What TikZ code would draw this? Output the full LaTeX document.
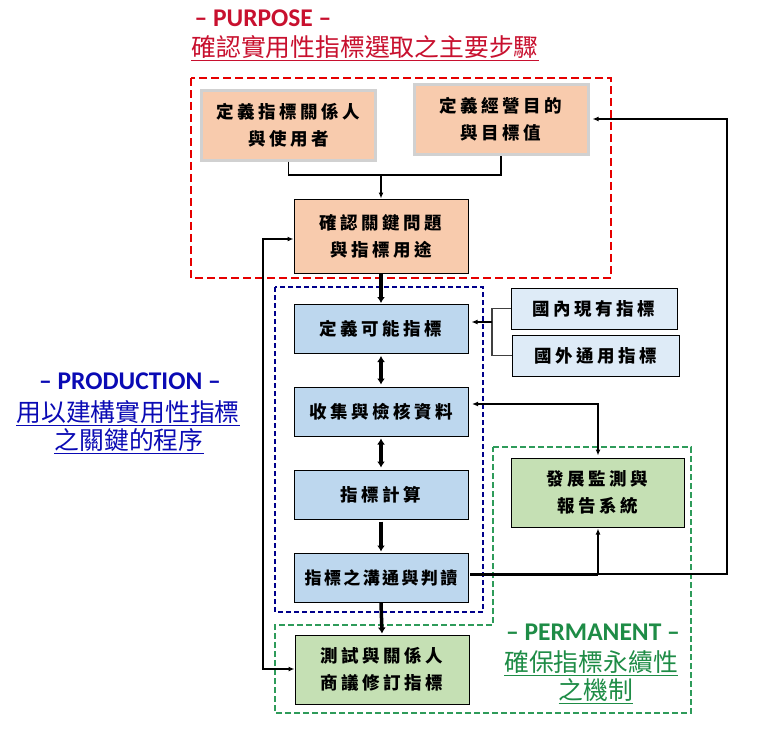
\documentclass[tikz,border=0pt]{standalone}
\usepackage{fontspec}
\setmainfont{Liberation Serif}
\newfontfamily\cjk{Noto Sans CJK TC}
\newfontfamily\cjkbox[LetterSpace=20]{Noto Sans CJK TC}
\newfontfamily\cjkboxn[LetterSpace=14]{Noto Sans CJK TC}
\newfontfamily\lat{Carlito}
\usetikzlibrary{arrows.meta,calc}
\definecolor{peach}{HTML}{F8CBAD}
\definecolor{lblue}{HTML}{BDD7EE}
\definecolor{llblue}{HTML}{DEEBF7}
\definecolor{lgreen}{HTML}{C5E0B4}
\definecolor{redline}{HTML}{E60000}
\definecolor{redtext}{HTML}{C8102E}
\definecolor{blueline}{HTML}{00008B}
\definecolor{bluetext}{HTML}{0A0AB4}
\definecolor{greenline}{HTML}{2E9B5A}
\definecolor{greentext}{HTML}{1E8C46}
\tikzset{
  box/.style={draw=black, line width=1pt, minimum width=174pt, align=center,
    inner sep=0pt, font=\fontsize{17.5}{27}\selectfont\cjkbox\bfseries},
  peachbox/.style={box, fill=peach, minimum height=70pt},
  glowbox/.style={peachbox, draw=black!18, line width=3pt},
  bluebox/.style={box, fill=lblue, minimum height=49pt},
  srcbox/.style={box, fill=llblue, minimum height=41pt, minimum width=167pt},
  greenbox/.style={box, fill=lgreen, minimum height=69pt},
  thinarrow/.style={line width=1.6pt, -{Latex[length=6pt,width=5pt]}},
  thinline/.style={line width=1.6pt},
  fatarrow/.style={line width=3.5pt, -{Latex[length=6pt,width=8pt]}},
  fatboth/.style={line width=3.5pt, {Latex[length=6pt,width=8pt]}-{Latex[length=6pt,width=8pt]}},
  latitle/.style={inner sep=0pt, font=\fontsize{25.5}{28}\selectfont\lat\bfseries},
  cjtitle/.style={inner sep=0pt, font=\fontsize{24.8}{28}\selectfont\cjk},
}
\newcommand{\ulnode}[4]{%
  \node[cjtitle, text=#1] (#2) at #3 {#4};
  \draw[#1, line width=1.3pt] ([yshift=-1.5pt]#2.south west) -- ([yshift=-1.5pt]#2.south east);}
\begin{document}
\begin{tikzpicture}[x=1pt,y=-1pt]
\useasboundingbox[fill=white] (0,0) rectangle (757,731);
% frames
\draw[redline, line width=2.6pt, dash pattern=on 8pt off 4pt] (191,78) rectangle (611,278);
\draw[blueline, line width=2pt, dash pattern=on 5pt off 3pt] (275,287) rectangle (483,612);
\draw[greenline, line width=2pt, dash pattern=on 6pt off 3pt]
  (493,447) -- (691,447) -- (691,713) -- (275,713) -- (275,625) -- (493,625) -- cycle;
% titles
\node[latitle, text=redtext] (tpur) at (263,18) {– PURPOSE –};
\ulnode{redtext}{tpur2}{(365,47)}{確認實用性指標選取之主要步驟}
\node[latitle, text=bluetext] (tpro) at (130,381) {– PRODUCTION –};
\ulnode{bluetext}{tpro2}{(128,412)}{用以建構實用性指標}
\ulnode{bluetext}{tpro3}{(129,440)}{之關鍵的程序}
\node[latitle, text=greentext] (tper) at (593,632) {– PERMANENT –};
\ulnode{greentext}{tper2}{(591,662)}{確保指標永續性}
\ulnode{greentext}{tper3}{(596,690)}{之機制}
% boxes
\node[glowbox] (A) at (288.5,125) {定義指標關係人\\與使用者};
\node[glowbox] (B) at (501,119) {定義經營目的\\與目標值};
\node[peachbox, minimum height=74pt] (C) at (381,236) {確認關鍵問題\\與指標用途};
\node[bluebox] (D) at (381,329) {定義可能指標};
\node[bluebox] (E) at (381,411.5) {收集與檢核資料};
\node[bluebox] (F) at (381,494.5) {指標計算};
\node[bluebox, font=\fontsize{17}{26}\selectfont\cjkboxn\bfseries] (G) at (381,577.5) {指標之溝通與判讀};
\node[greenbox] (H) at (382,669.5) {測試與關係人\\商議修訂指標};
\node[srcbox, minimum width=166pt] (I) at (594,308.5) {國內現有指標};
\node[srcbox] (J) at (595.5,355.5) {國外通用指標};
\node[greenbox, minimum width=173pt] (K) at (597.5,492.5) {發展監測與\\報告系統};
% connectors
\coordinate (j1) at (381,175);
\draw[thinline] (A.south) |- (j1) -| (B.south);
\draw[thinarrow] (j1) -- (C.north);
\draw[fatarrow] (C.south) -- ([yshift=1pt]D.north);
\draw[fatboth] ([yshift=-2pt]D.south) -- ([yshift=2pt]E.north);
\draw[fatboth] ([yshift=-2pt]E.south) -- ([yshift=2pt]F.north);
\draw[fatarrow] ([yshift=-2pt]F.south) -- ([yshift=1pt]G.north);
\draw[fatarrow] (G.south) -- ([yshift=1pt]H.north);
% sources
\coordinate (ij) at (492,322);
\draw[line width=1.2pt, black!75] (I.west) -| (ij) |- (J.west);
\draw[thinarrow] (ij) -- ([xshift=3pt,yshift=7pt]D.east);
% E <-> K
\coordinate (e1) at (472,404);
\coordinate (ek) at (598,404);
\draw[thinline, {Latex[length=6pt,width=5pt]}-{Latex[length=6pt,width=5pt]}] (e1) -- (ek) -- ([yshift=2pt]K.north -| ek);
% G -> K, G -> B loop
\coordinate (g1) at (470,574);
\coordinate (gk) at (598,574);
\coordinate (r1) at (727,574);
\draw[line width=3pt] (g1) -- (gk);
\draw[thinarrow] (gk) -- ([yshift=-1pt]K.south -| gk);
\draw[line width=2pt, -{Latex[length=6pt,width=5pt]}] (gk) -- (r1) |- ([xshift=3pt]B.east);
% H <-> C loop
\coordinate (l1) at (263,669);
\coordinate (l2) at (263,239);
\draw[thinline, {Latex[length=6pt,width=5pt]}-{Latex[length=6pt,width=5pt]}] (H.west |- l1) -- (l1) -- (l2) -- (C.west |- l2);
\end{tikzpicture}
\end{document}
